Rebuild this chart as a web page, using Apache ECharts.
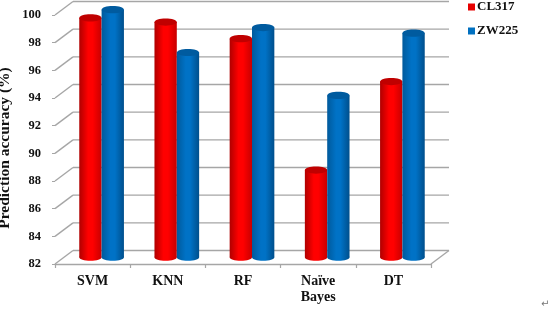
<!DOCTYPE html>
<html>
<head>
<meta charset="utf-8">
<style>html,body{margin:0;padding:0;background:#fff}#c{width:550px;height:309px}</style>
<script src="https://cdn.jsdelivr.net/npm/echarts@6/dist/echarts.min.js"></script>
</head>
<body>
<div id="c"></div>
<script>
const categories = ['SVM', 'KNN', 'RF', 'Naïve\nBayes', 'DT'];
const cl317 = [99.3, 99.0, 97.8, 88.3, 94.7];
const zw225 = [99.9, 96.8, 98.6, 93.7, 98.2];
const yTicks = [82, 84, 86, 88, 90, 92, 94, 96, 98, 100];

const FONT = '"Liberation Serif", serif';
const DX = 18, DY = -13.5, GRID = '#a6a6a6';

function grad(edge, mid, edge2) {
  return new echarts.graphic.LinearGradient(0, 0, 1, 0, [
    {offset: 0, color: edge}, {offset: 0.4, color: mid},
    {offset: 0.6, color: mid}, {offset: 1, color: edge2}
  ]);
}
function cylinder(side, edge, mid, edge2, topColor) {
  return function (params, api) {
    const i = api.value(0), v = api.value(1);
    const band = api.size([1, 0])[0];
    const w = band * 0.297;
    const top = api.coord([i, v]), base = api.coord([i, 82]);
    const cx = top[0] + DX / 2 + side * w / 2;
    const ty = top[1] + DY / 2, by = base[1] + DY / 2;
    const ry = 3.6;
    const fill = grad(edge, mid, edge2);
    return {
      type: 'group',
      children: [
        {type: 'ellipse', shape: {cx: cx, cy: by, rx: w / 2, ry: ry}, style: {fill: fill}},
        {type: 'rect', shape: {x: cx - w / 2, y: ty, width: w, height: by - ty}, style: {fill: fill}},
        {type: 'ellipse', shape: {cx: cx, cy: ty, rx: w / 2, ry: ry}, style: {fill: topColor}}
      ]
    };
  };
}
function wall(params, api) {
  const v = api.value(0);
  const y = api.coord([0, v])[1];
  const x0 = params.coordSys.x, x1 = x0 + params.coordSys.width;
  const style = {stroke: GRID, lineWidth: 1.4, fill: 'none'};
  const kids = [
    {type: 'line', shape: {x1: x0, y1: y, x2: x0 + DX, y2: y + DY}, style: style},
    {type: 'line', shape: {x1: x0 + DX, y1: y + DY, x2: x1 + DX, y2: y + DY}, style: style}
  ];
  if (v === yTicks[0]) {
    kids.push({type: 'line', shape: {x1: x1, y1: y, x2: x1 + DX, y2: y + DY}, style: style});
  }
  return {type: 'group', children: kids};
}

const chart = echarts.init(document.getElementById('c'), null, {renderer: 'canvas'});
chart.setOption({
  animation: false,
  backgroundColor: '#fff',
  grid: {left: 55, right: 119, top: 15, bottom: 45, containLabel: false, outerBoundsMode: 'none'},
  legend: {
    data: [
      {name: 'CL317', itemStyle: {color: '#e60000'}},
      {name: 'ZW225', itemStyle: {color: '#0070c0'}}
    ],
    orient: 'vertical', left: 463, top: -5, itemWidth: 7, itemHeight: 7, itemGap: 10,
    icon: 'rect',
    textStyle: {fontFamily: FONT, fontWeight: 'bold', fontSize: 13, color: '#111', padding: [0, 0, 0, -3], lineHeight: 14}
  },
  xAxis: {
    type: 'category', data: categories, boundaryGap: true,
    axisLine: {lineStyle: {color: GRID, width: 1.4}},
    axisTick: {show: true, alignWithLabel: false, length: 4, lineStyle: {color: GRID, width: 1.2}},
    axisLabel: {interval: 0, margin: 9, fontFamily: FONT, fontWeight: 'bold', fontSize: 14, color: '#111', lineHeight: 16.5, verticalAlign: 'top'},
    splitLine: {show: false}
  },
  yAxis: {
    type: 'value', min: 82, max: 100, interval: 2,
    name: 'Prediction accuracy (%)', nameLocation: 'middle', nameGap: 42, nameMoveOverlap: false,
    nameTextStyle: {fontFamily: FONT, fontWeight: 'bold', fontSize: 15.5, color: '#111', padding: [0, 17, 0, 0]},
    axisLine: {show: false},
    axisTick: {show: true, length: 3, lineStyle: {color: GRID, width: 1}},
    axisLabel: {margin: 14, fontFamily: FONT, fontWeight: 'bold', fontSize: 12.5, color: '#111'},
    splitLine: {show: false}
  },
  series: [
    {type: 'custom', name: 'wall', renderItem: wall, data: yTicks.map(v => [v]), encode: {y: 0}, silent: true, z: 1, clip: false},
    {type: 'custom', name: 'CL317', renderItem: cylinder(-1, '#b00000', '#ff0000', '#c80000', '#c00000'),
     data: cl317.map((v, i) => [i, v]), encode: {x: 0, y: 1}, z: 2, clip: false},
    {type: 'custom', name: 'ZW225', renderItem: cylinder(1, '#005a9c', '#0072c6', '#004f8c', '#005b9f'),
     data: zw225.map((v, i) => [i, v]), encode: {x: 0, y: 1}, z: 3, clip: false}
  ],
  graphic: [{type: 'text', left: 541, top: 299, style: {text: '↵', font: '10px "DejaVu Sans"', fill: '#777'}}]
});
</script>
</body>
</html>
